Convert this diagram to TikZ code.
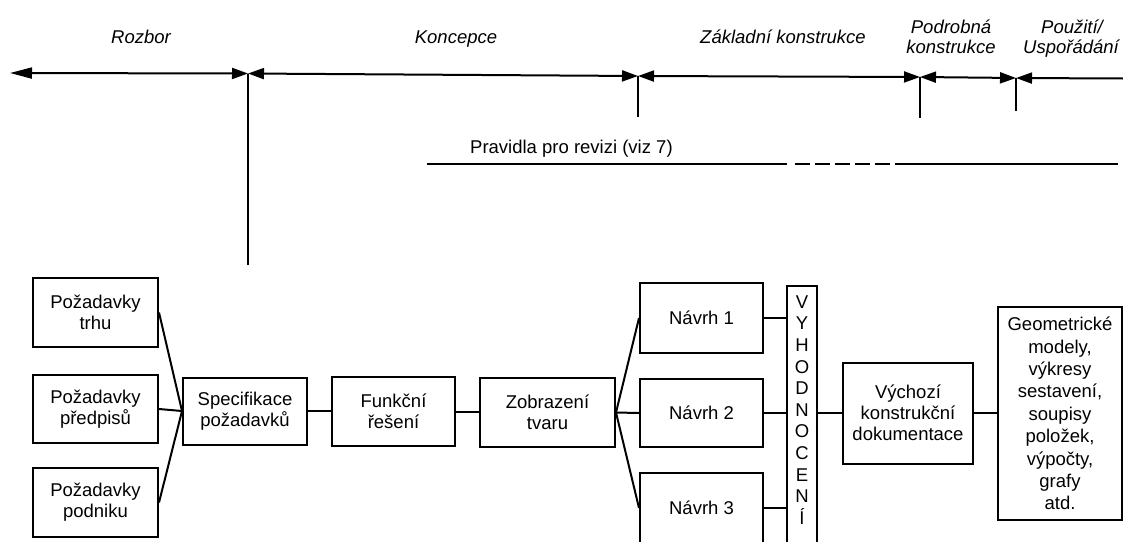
\documentclass[tikz,border=0pt]{standalone}
\usepackage{fontspec}
\setmainfont{Liberation Sans}
\usetikzlibrary{arrows.meta}
\begin{document}
\begin{tikzpicture}[x=1pt,y=-1pt,
  box/.style={draw, line width=2pt, align=center, inner sep=0pt,
    font=\fontsize{18.5}{21}\selectfont},
  phase/.style={font=\fontsize{18.5}{20}\selectfont\itshape, anchor=base, align=center},
  conn/.style={line width=2pt},
  tl/.style={line width=2pt}]
\useasboundingbox (0,0) rectangle (1123,541);

% timeline
\coordinate (L) at (10,73);
\coordinate (t1) at (248,73.5);
\coordinate (t2) at (638,76);
\coordinate (t3) at (920,77);
\coordinate (t4) at (1016,78);
\coordinate (R) at (1123,78.5);
\coordinate (v1) at (248,265);
\coordinate (v2) at (638,117);
\coordinate (v3) at (920,118);
\coordinate (v4) at (1016,111);
\draw[tl, {Triangle[length=22pt,width=11pt]}-{Triangle[length=16pt,width=11pt]}] (L) -- (t1);
\draw[tl, {Triangle[length=16pt,width=11pt]}-{Triangle[length=16pt,width=11pt]}] (t1) -- (t2);
\draw[tl, {Triangle[length=16pt,width=11pt]}-{Triangle[length=16pt,width=11pt]}] (t2) -- (t3);
\draw[tl, {Triangle[length=16pt,width=11pt]}-{Triangle[length=16pt,width=11pt]}] (t3) -- (t4);
\draw[tl, {Triangle[length=16pt,width=11pt]}-] (t4) -- (R);
\draw[tl] (t1) -- (v1);
\draw[tl] (t2) -- (v2);
\draw[tl] (t3) -- (v3);
\draw[tl] (t4) -- (v4);

% phase labels
\node[phase] (rozbor) at (141,43) {Rozbor};
\node[phase] (koncepce) at (456,43) {Koncepce};
\node[phase] (zaklad) at (783,43) {Základní konstrukce};
\node[phase] (podrob1) at (951,33) {Podrobná};
\node[phase] (podrob2) at (951,53) {konstrukce};
\node[phase] (pouz1) at (1072,33) {Použití/};
\node[phase] (pouz2) at (1071,53) {Uspořádání};

% revision rule
\node[font=\fontsize{18.5}{20}\selectfont, anchor=base west, inner sep=0pt] (prav) at (470,153) {Pravidla pro revizi (viz 7)};
\coordinate (r0) at (427,164);
\coordinate (r1) at (787,164);
\coordinate (r2) at (795,164);
\coordinate (r3) at (890,164);
\coordinate (r4) at (895,164);
\coordinate (r5) at (1118,164);
\draw[tl] (r0) -- (r1);
\draw[tl, dash pattern=on 15pt off 5pt] (r2) -- (r3);
\draw[tl] (r4) -- (r5);

% boxes
\node[box, minimum width=125, minimum height=69] (trhu) at (95.5,312.5) {Požadavky\\trhu};
\node[box, minimum width=125, minimum height=68] (predpis) at (95.5,409) {Požadavky\\předpisů};
\node[box, minimum width=125, minimum height=69] (podnik) at (95.5,502.5) {Požadavky\\podniku};
\node[box, minimum width=124, minimum height=67] (spec) at (245,411) {Specifikace\\požadavků};
\node[box, minimum width=123, minimum height=69] (funk) at (393.5,411.5) {Funkční\\řešení};
\node[box, minimum width=135, minimum height=69] (zobr) at (547.5,412.5) {Zobrazení\\tvaru};
\node[box, minimum width=123, minimum height=70] (n1) at (701.5,318) {Návrh 1};
\node[box, minimum width=123, minimum height=68] (n2) at (701.5,413) {Návrh 2};
\node[box, minimum width=123, minimum height=70] (n3) at (701.5,508) {Návrh 3};
\node[draw, line width=2pt, minimum width=30, minimum height=280, anchor=north, inner sep=0pt] (vyh) at (802,285) {};
\node[align=center, inner sep=0pt, font=\fontsize{18.5}{21.6}\selectfont] (vyhtxt) at (802,410) {V\\Y\\H\\O\\D\\N\\O\\C\\E\\N\\Í};
\node[box, minimum width=130, minimum height=101] (vych) at (908,413) {Výchozí\\konstrukční\\dokumentace};
\node[box, minimum width=124, minimum height=213, font=\fontsize{18.5}{22.4}\selectfont] (geom) at (1060,413.5) {Geometrické\\modely,\\výkresy\\sestavení,\\soupisy\\položek,\\výpočty,\\grafy\\atd.};

% connectors
\draw[conn] (trhu.east) -- (spec.west);
\draw[conn] (predpis.east) -- (spec.west);
\draw[conn] (podnik.east) -- (spec.west);
\draw[conn] (spec.east) -- (spec.east -| funk.west);
\draw[conn] (funk.east) -- (funk.east -| zobr.west);
\draw[conn] (zobr.east) -- (n1.west);
\draw[conn] (zobr.east) -- (n2.west);
\draw[conn] (zobr.east) -- (n3.west);
\draw[conn] (n1.east) -- (n1.east -| vyh.west);
\draw[conn] (n2.east) -- (n2.east -| vyh.west);
\draw[conn] (n3.east) -- (n3.east -| vyh.west);
\draw[conn] (vyh.east |- vych.west) -- (vych.west);
\draw[conn] (vych.east) -- (vych.east -| geom.west);
\end{tikzpicture}
\end{document}
